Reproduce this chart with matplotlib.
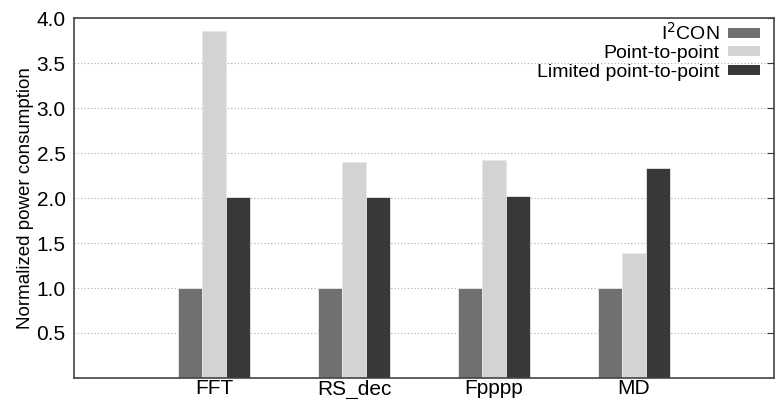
import numpy as np
import matplotlib
matplotlib.use("Agg")
import matplotlib.pyplot as plt

plt.rcParams['font.family'] = ['Liberation Sans', 'DejaVu Sans']

# data
benchmarks = ["FFT", "RS_dec", "Fpppp", "MD"]
i2con = [1.0, 1.0, 1.0, 1.0]
point_to_point = [3.86, 2.40, 2.42, 1.39]
limited_p2p = [2.01, 2.01, 2.02, 2.33]
series_names = ["I$^2$CON", "Point-to-point", "Limited point-to-point"]
y_ticks = [0.5, 1.0, 1.5, 2.0, 2.5, 3.0, 3.5, 4.0]

colors = ["#707070", "#d3d3d3", "#383838"]

fig = plt.figure(figsize=(7.83, 3.99), dpi=100)
ax = fig.add_axes([74 / 783, 21 / 399, 700 / 783, 360 / 399])

x = np.arange(1, len(benchmarks) + 1)
w = 0.171
for k, (vals, name) in enumerate(zip([i2con, point_to_point, limited_p2p], series_names)):
    ax.bar(x + (k - 1) * w, vals, width=w, color=colors[k], edgecolor="#e8e8e8",
           linewidth=0.6, label=name, zorder=2)

ax.set_xlim(0, 5)
ax.set_ylim(0, 4.0)
ax.set_xticks(x)
ax.set_xticklabels(benchmarks, fontsize=15)
ax.set_yticks(y_ticks)
ax.set_yticklabels([f"{v:.1f}" for v in y_ticks], fontsize=15)
ax.tick_params(axis="x", length=0, pad=1)
ax.tick_params(axis="y", direction="in", length=5, right=True, left=False, color="#333333", pad=6)
ax.yaxis.grid(True, linestyle=(0, (1, 2)), color="#aaaaaa", linewidth=0.8, zorder=0)
ax.set_ylabel("Normalized power consumption", fontsize=13.5, labelpad=2)

for s in ax.spines.values():
    s.set_color("#444444")
    s.set_linewidth(1.2)

leg = ax.legend(loc="upper right", frameon=False, markerfirst=False, fontsize=14,
                handlelength=1.65, handleheight=0.4, labelspacing=0.08,
                borderaxespad=0.0, borderpad=0.2, handletextpad=0.4,
                bbox_to_anchor=(0.985, 1.0))
for h in leg.legend_handles:
    h.set_edgecolor("none")

fig.savefig("out.png", dpi=100)
